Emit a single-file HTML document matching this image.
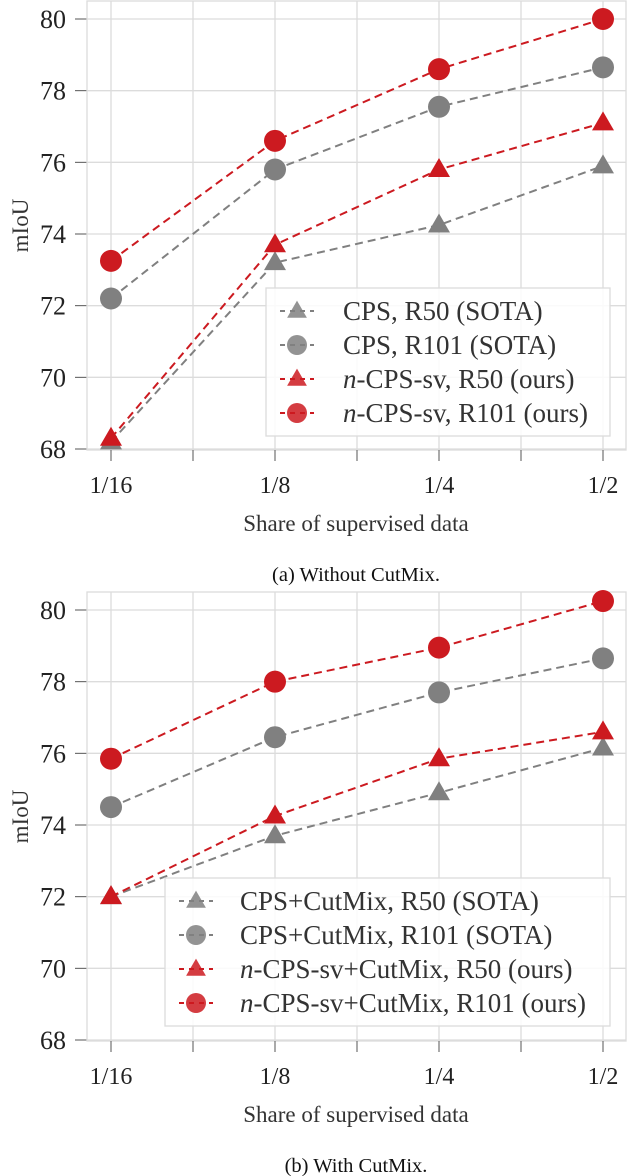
<!DOCTYPE html>
<html><head><meta charset="utf-8"><style>
body{margin:0;background:#fff}
svg{display:block;font-family:"Liberation Serif",serif}
</style></head><body>
<svg id="chart" width="628" height="1176" viewBox="0 0 628 1176" xmlns="http://www.w3.org/2000/svg"></svg>
<script>
const categories=["1/16","1/8","1/4","1/2"];
const yTicks=[68,70,72,74,76,78,80];
const topCpsR50=[68.2,73.2,74.25,75.9];
const topCpsR101=[72.2,75.8,77.55,78.65];
const topOursR50=[68.3,73.7,75.8,77.1];
const topOursR101=[73.25,76.6,78.6,80.0];
const botCpsR50=[72.0,73.7,74.9,76.15];
const botCpsR101=[74.5,76.45,77.7,78.65];
const botOursR50=[72.0,74.25,75.85,76.6];
const botOursR101=[75.85,78.0,78.95,80.25];
const topLabels=["CPS, R50 (SOTA)","CPS, R101 (SOTA)","-CPS-sv, R50 (ours)","-CPS-sv, R101 (ours)"];
const botLabels=["CPS+CutMix, R50 (SOTA)","CPS+CutMix, R101 (SOTA)","-CPS-sv+CutMix, R50 (ours)","-CPS-sv+CutMix, R101 (ours)"];

const NS="http://www.w3.org/2000/svg";
const svg=document.getElementById('chart');
const GRAY="#808080",RED="#cc1a20";
function mk(tag,attrs,parent){const e=document.createElementNS(NS,tag);for(const k in attrs)e.setAttribute(k,attrs[k]);(parent||svg).appendChild(e);return e;}
const xPos=i=>111+164*i;

function panel(id,top,series,labels,legend,caption){
  const g=mk('g',{});
  
  
  const y0=top+449, y1=top+19;
  const yS=v=>y0-(v-68)*(y0-y1)/12;
  const L=87,R=626,T=top+1,B=top+450;
  for(let k=0;k<=7;k++){const x=111+82*k-82; if(x>L&&x<R) mk('line',{x1:x,x2:x,y1:T,y2:B,stroke:"#dcdcdc","stroke-width":1.3},g);}
  yTicks.forEach(v=>{const y=yS(v);mk('line',{x1:L,x2:R,y1:y,y2:y,stroke:"#dcdcdc","stroke-width":1.3},g);
    mk('line',{x1:75,x2:L,y1:y,y2:y,stroke:"#555","stroke-width":1},g);
    const t=mk('text',{x:66,y:y+9,"text-anchor":"end","font-size":26,fill:"#222"},g);t.textContent=v;
    });
  mk('rect',{x:L,y:T,width:R-L,height:B-T,fill:"none",stroke:"#dcdcdc","stroke-width":1.3},g);
  for(let k=0;k<7;k++){const x=111+82*k; mk('line',{x1:x,x2:x,y1:B,y2:B+11,stroke:"#555","stroke-width":1},g);}
  categories.forEach((c,i)=>{const t=mk('text',{x:xPos(i),y:B+43,"text-anchor":"middle","font-size":24,fill:"#222"},g);t.textContent=c;
    });
  const xl=mk('text',{x:356,y:B+81,"text-anchor":"middle","font-size":23,fill:"#333"},g);xl.textContent="Share of supervised data";
  
  const yl=mk('text',{x:0,y:0,"text-anchor":"middle","font-size":23,fill:"#333",transform:`translate(28,${(T+B)/2}) rotate(-90)`},g);yl.textContent="mIoU";
  
  const cap=mk('text',{x:356,y:B+131,"text-anchor":"middle","font-size":20.5,fill:"#111"},g);cap.textContent=caption;
  
  const marker=(par,type,x,y,col,r)=>{
    if(type==='c') return mk('circle',{cx:x,cy:y,r:r,fill:col},par);
    return mk('polygon',{points:`${x},${y-r*1.15} ${x-r*1.1},${y+r*0.75} ${x+r*1.1},${y+r*0.75}`,fill:col},par);
  };
  series.forEach((s,si)=>{
    const sg=mk('g',{},g);
    
    
    mk('polyline',{points:s.data.map((v,i)=>xPos(i)+","+yS(v)).join(" "),fill:"none",stroke:s.col,"stroke-width":2,"stroke-dasharray":"8 5"},sg);
    s.data.forEach((v,i)=>{const m=marker(sg,s.type,xPos(i),yS(v),s.col,s.type==='c'?11:10);
      });
  });
  const lg=mk('g',{},g);
  
  
  mk('rect',{x:legend.x,y:top+legend.y,width:legend.w,height:148,fill:"rgba(255,255,255,0.85)",stroke:"#dcdcdc","stroke-width":1.3},lg);
  series.forEach((s,si)=>{
    const y=top+legend.y+23+34*si, mx=legend.x+31;
    const eg=mk('g',{},lg);
    
    
    mk('line',{x1:mx-17,x2:mx+17,y1:y,y2:y,stroke:s.col,"stroke-width":2,"stroke-dasharray":"5 5"},eg);
    marker(eg,s.type,mx,y,s.col,s.type==='c'?10:9).setAttribute('opacity','0.85');
    const t=mk('text',{x:legend.x+legend.tx,y:y+9,"font-size":27,fill:"#333"},eg);
    if(si>=2){const it=document.createElementNS(NS,'tspan');it.setAttribute('font-style','italic');it.textContent='n';t.appendChild(it);
      t.appendChild(document.createTextNode(labels[si]));} else t.textContent=labels[si];
  });
}
panel('without-cutmix',0,[
  {name:'cps-r50',data:topCpsR50,col:GRAY,type:'t'},
  {name:'cps-r101',data:topCpsR101,col:GRAY,type:'c'},
  {name:'ours-r50',data:topOursR50,col:RED,type:'t'},
  {name:'ours-r101',data:topOursR101,col:RED,type:'c'}],topLabels,{x:266,y:288,w:344,tx:77},"(a) Without CutMix.");
panel('with-cutmix',591,[
  {name:'cps-cutmix-r50',data:botCpsR50,col:GRAY,type:'t'},
  {name:'cps-cutmix-r101',data:botCpsR101,col:GRAY,type:'c'},
  {name:'ours-cutmix-r50',data:botOursR50,col:RED,type:'t'},
  {name:'ours-cutmix-r101',data:botOursR101,col:RED,type:'c'}],botLabels,{x:165,y:287,w:445,tx:75},"(b) With CutMix.");
</script>
</body></html>
